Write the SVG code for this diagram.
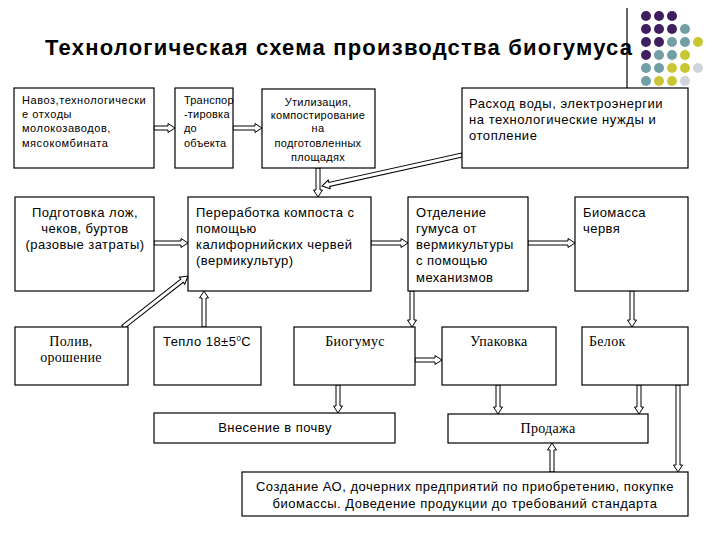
<svg xmlns="http://www.w3.org/2000/svg" width="720" height="540" viewBox="0 0 720 540">
<style>
.box{fill:#fff;stroke:#000;stroke-width:1.2}
.s{font-family:"Liberation Sans",Arial,sans-serif;fill:#000;letter-spacing:0.45px}
.r{font-family:"Liberation Serif","Times New Roman",serif;fill:#000;letter-spacing:0.3px}
.t11{font-size:11px}
.t13{font-size:13px}
.t14{font-size:14px}
.arr{fill:#fff;stroke:#000;stroke-width:1}
.p{fill:#3f1f5f}.g{fill:#729ea6}.y{fill:#c9c635}.l{fill:#cfd4db}
</style>
<rect width="720" height="540" fill="#fff"/>
<g id="decor">
<line x1="627" y1="8" x2="627" y2="88" stroke="#000" stroke-width="1.2"/>
<circle class="p" cx="646" cy="16" r="5"/><circle class="p" cx="659" cy="16" r="5"/><circle class="p" cx="672" cy="16" r="5"/>
<circle class="p" cx="646" cy="29" r="5"/><circle class="p" cx="659" cy="29" r="5"/><circle class="p" cx="672" cy="29" r="5"/><circle class="g" cx="685" cy="29" r="5"/>
<circle class="p" cx="646" cy="42" r="5"/><circle class="p" cx="659" cy="42" r="5"/><circle class="g" cx="672" cy="42" r="5"/><circle class="g" cx="685" cy="42" r="5"/><circle class="y" cx="698" cy="42" r="5"/>
<circle class="p" cx="646" cy="55" r="5"/><circle class="g" cx="659" cy="55" r="5"/><circle class="g" cx="672" cy="55" r="5"/><circle class="y" cx="685" cy="55" r="5"/>
<circle class="g" cx="646" cy="68" r="5"/><circle class="g" cx="659" cy="68" r="5"/><circle class="y" cx="672" cy="68" r="5"/><circle class="y" cx="685" cy="68" r="5"/><circle class="l" cx="698" cy="68" r="5"/>
<circle class="g" cx="646" cy="81" r="5"/><circle class="y" cx="659" cy="81" r="5"/><circle class="y" cx="672" cy="81" r="5"/><circle class="l" cx="685" cy="81" r="5"/>
</g>
<text id="title" x="45" y="55" font-family="'Liberation Sans',Arial,sans-serif" font-size="22" font-weight="bold" textLength="587" lengthAdjust="spacing">Технологическая схема производства биогумуса</text>

<g id="connectors">
<polygon class="arr" points="154,126 168,126 168,123.5 175,128 168,132.5 168,130 154,130"/>
<polygon class="arr" points="233,126 255,126 255,123.5 262,128 255,132.5 255,130 233,130"/>
<polygon class="arr" points="154,241 181,241 181,238.5 188,243 181,247.5 181,245 154,245"/>
<polygon class="arr" points="371,241 401,241 401,238.5 408,243 401,247.5 401,245 371,245"/>
<polygon class="arr" points="528,241 568,241 568,238.5 575,243 568,247.5 568,245 528,245"/>
<polygon class="arr" points="415,358 435,358 435,355.5 442,360 435,364.5 435,362 415,362"/>
<polygon class="arr" points="316,168 316,190 313.5,190 318,197 322.5,190 320,190 320,168"/>
<polygon class="arr" points="410,291 410,320 407.5,320 412,327 416.5,320 414,320 414,291"/>
<polygon class="arr" points="630,291 630,320 627.5,320 632,327 636.5,320 634,320 634,291"/>
<polygon class="arr" points="336,385 336,406 333.5,406 338,413 342.5,406 340,406 340,385"/>
<polygon class="arr" points="496,385 496,407 493.5,407 498,414 502.5,407 500,407 500,385"/>
<polygon class="arr" points="637,385 637,407 634.5,407 639,414 643.5,407 641,407 641,385"/>
<polygon class="arr" points="676,385 676,465 673.5,465 678,472 682.5,465 680,465 680,385"/>
<polygon class="arr" points="202,327 202,298 199.5,298 204,291 208.5,298 206,298 206,327"/>
<polygon class="arr" points="550,472 550,450 547.5,450 552,443 556.5,450 554,450 554,472"/>
<g transform="translate(462,155) rotate(167.5)"><polygon class="arr" points="0,-2 136,-2 136,-4.5 143.4,0 136,4.5 136,2 0,2"/></g>
<g transform="translate(123,327) rotate(-38.1)"><polygon class="arr" points="0,-2 75,-2 75,-4.5 82.6,0 75,4.5 75,2 0,2"/></g>
</g>

<g id="n1"><rect class="box" x="14" y="88" width="140" height="80"/>
<text class="s t11" style="letter-spacing:0.55px"><tspan x="22" y="104">Навоз,технологически</tspan><tspan x="22" y="118">е отходы</tspan><tspan x="22" y="132">молокозаводов,</tspan><tspan x="22" y="147">мясокомбината</tspan></text></g>
<g id="n2"><rect class="box" x="175" y="88" width="58" height="80"/>
<text class="s t11" style="letter-spacing:0.2px"><tspan x="184" y="104">Транспор</tspan><tspan x="184" y="118">-тировка</tspan><tspan x="184" y="132">до</tspan><tspan x="184" y="147">объекта</tspan></text></g>
<g id="n3"><rect class="box" x="262" y="89" width="113" height="79"/>
<text class="s t11" style="letter-spacing:0.3px" text-anchor="middle"><tspan x="318" y="106">Утилизация,</tspan><tspan x="318" y="119">компостирование</tspan><tspan x="318" y="132">на</tspan><tspan x="318" y="147">подготовленных</tspan><tspan x="318" y="161">площадях</tspan></text></g>
<g id="n4"><rect class="box" x="462" y="88" width="226" height="80"/>
<text class="s t13" style="letter-spacing:0.55px"><tspan x="469" y="107.5">Расход воды, электроэнергии</tspan><tspan x="469" y="123.5">на технологические нужды и</tspan><tspan x="469" y="139.5">отопление</tspan></text></g>

<g id="n5"><rect class="box" x="15" y="197" width="139" height="94"/>
<text class="s t13" text-anchor="middle"><tspan x="85" y="216.5">Подготовка лож,</tspan><tspan x="85" y="232.5">чеков, буртов</tspan><tspan x="85" y="248.5">(разовые затраты)</tspan></text></g>
<g id="n6"><rect class="box" x="188" y="197" width="183" height="94"/>
<text class="s t13"><tspan x="196" y="216.5">Переработка компоста с</tspan><tspan x="196" y="232.5">помощью</tspan><tspan x="196" y="248.5">калифорнийских червей</tspan><tspan x="196" y="265">(вермикультур)</tspan></text></g>
<g id="n7"><rect class="box" x="408" y="197" width="120" height="94"/>
<text class="s t13"><tspan x="416" y="216.5">Отделение</tspan><tspan x="416" y="232.5">гумуса от</tspan><tspan x="416" y="248.5">вермикультуры</tspan><tspan x="416" y="265">с помощью</tspan><tspan x="416" y="281.5">механизмов</tspan></text></g>
<g id="n8"><rect class="box" x="575" y="197" width="113" height="94"/>
<text class="s t13"><tspan x="583" y="216.5">Биомасса</tspan><tspan x="583" y="232.5">червя</tspan></text></g>

<g id="n9"><rect class="box" x="15" y="327" width="113" height="58"/>
<text class="r t14" text-anchor="middle"><tspan x="71" y="346">Полив,</tspan><tspan x="71" y="362">орошение</tspan></text></g>
<g id="n10"><rect class="box" x="154" y="327" width="107" height="58"/>
<text class="s t13" x="163" y="345.5">Тепло 18±5<tspan font-size="8" dy="-5">0</tspan><tspan dy="5">С</tspan></text></g>
<g id="n11"><rect class="box" x="294" y="327" width="121" height="58"/>
<text class="r t14" x="355" y="345.5" text-anchor="middle">Биогумус</text></g>
<g id="n12"><rect class="box" x="442" y="327" width="114" height="58"/>
<text class="r t14" x="499" y="345.5" text-anchor="middle">Упаковка</text></g>
<g id="n13"><rect class="box" x="582" y="327" width="106" height="58"/>
<text class="r t14" x="589" y="345.5">Белок</text></g>

<g id="n14"><rect class="box" x="154" y="413" width="241" height="30"/>
<text class="s t13" x="275" y="431.5" text-anchor="middle">Внесение в почву</text></g>
<g id="n15"><rect class="box" x="448" y="414" width="200" height="29"/>
<text class="r t14" x="548" y="432.5" text-anchor="middle">Продажа</text></g>
<g id="n16"><rect class="box" x="242" y="472" width="446" height="44"/>
<text class="s t13" text-anchor="middle" style="letter-spacing:0.5px"><tspan x="465" y="490.5">Создание АО, дочерних предприятий по приобретению, покупке</tspan><tspan x="465" y="507.5">биомассы. Доведение продукции до требований стандарта</tspan></text></g>
</svg>
